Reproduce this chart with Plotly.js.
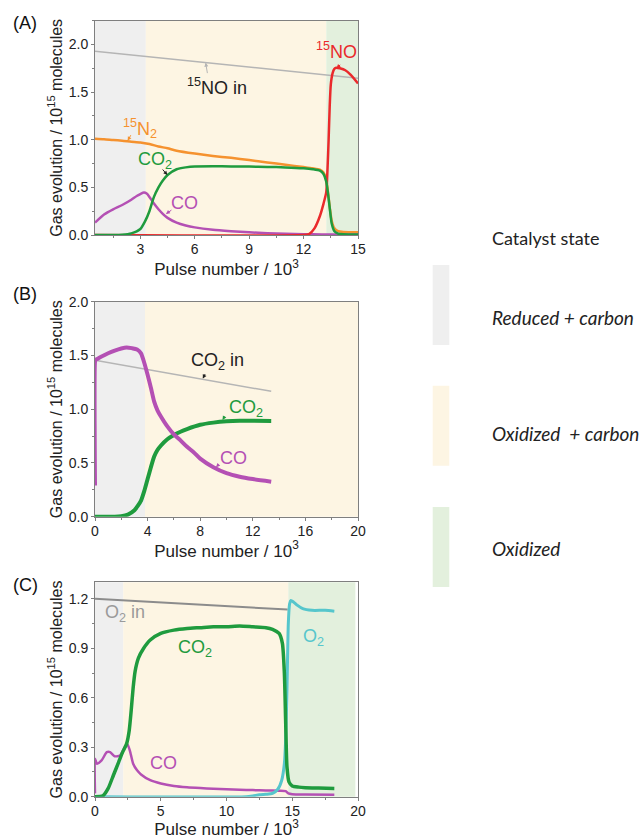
<!DOCTYPE html>
<html>
<head>
<meta charset="utf-8">
<script src="https://cdn.plot.ly/plotly-3.0.1.min.js"></script>
<style>html,body{margin:0;padding:0;background:#fff;}#chart{width:641px;height:839px;}</style>
</head>
<body>
<div id="chart"></div>
<script>
// ---------- Panel A data (x in 10^3 pulses, y in 10^15 molecules) ----------
var A_NOin_x = [0.5, 15];
var A_NOin_y = [1.93, 1.645];
var A_N2_x = [0.5, 1, 1.5, 2, 2.5, 3, 3.5, 4, 4.5, 5, 6, 7, 8, 9, 10, 11, 12, 12.5, 12.9, 13.1, 13.25, 13.35, 13.45, 13.55, 13.7, 13.9, 14.2, 15];
var A_N2_y = [1.01, 1.005, 0.997, 0.99, 0.98, 0.972, 0.955, 0.93, 0.91, 0.885, 0.855, 0.83, 0.81, 0.787, 0.762, 0.738, 0.713, 0.70, 0.685, 0.655, 0.58, 0.44, 0.28, 0.15, 0.07, 0.04, 0.032, 0.028];
var A_CO2_x = [0.5, 1.5, 2, 2.5, 3, 3.25, 3.5, 3.75, 4, 4.25, 4.5, 5, 5.5, 6, 7, 8, 9, 10, 11, 12, 12.5, 12.9, 13.1, 13.25, 13.35, 13.45, 13.55, 13.7, 13.9, 14.2, 15];
var A_CO2_y = [0, 0, 0.003, 0.017, 0.063, 0.14, 0.25, 0.40, 0.50, 0.575, 0.63, 0.69, 0.71, 0.72, 0.722, 0.72, 0.718, 0.715, 0.71, 0.70, 0.69, 0.675, 0.64, 0.56, 0.43, 0.27, 0.12, 0.04, 0.015, 0.008, 0.005];
var A_CO_x = [0.5, 1, 1.5, 2, 2.5, 2.8, 3.0, 3.2, 3.35, 3.5, 3.75, 4, 4.25, 4.5, 5, 5.5, 6, 7, 8, 9, 10, 11, 12, 13, 15];
var A_CO_y = [0.13, 0.215, 0.27, 0.315, 0.37, 0.41, 0.43, 0.445, 0.435, 0.40, 0.33, 0.27, 0.22, 0.18, 0.13, 0.10, 0.08, 0.055, 0.04, 0.028, 0.018, 0.012, 0.008, 0.006, 0.005];
var A_NO_x = [0.5, 12, 12.3, 12.6, 12.9, 13.1, 13.25, 13.32, 13.38, 13.44, 13.5, 13.6, 13.7, 13.8, 14.0, 14.3, 14.6, 15];
var A_NO_y = [0, 0, 0.01, 0.07, 0.2, 0.33, 0.45, 0.7, 1.0, 1.35, 1.58, 1.70, 1.745, 1.757, 1.75, 1.73, 1.68, 1.59];
var A_states = [0.5, 3.3, 13.25, 15];   // boundaries: reduced | oxidized+carbon | oxidized

// ---------- Panel B data ----------
var B_CO2in_x = [0, 13.4];
var B_CO2in_y = [1.456, 1.166];
var B_CO_x = [0, 0, 0.05, 0.2, 0.5, 1, 1.5, 2, 2.4, 2.8, 3.2, 3.5, 3.75, 4, 4.25, 4.5, 4.75, 5, 5.5, 6, 6.5, 7, 7.5, 8, 9, 10, 11, 12, 13.4];
var B_CO_y = [0.29, 1.44, 1.46, 1.47, 1.49, 1.52, 1.545, 1.565, 1.575, 1.568, 1.555, 1.52, 1.43, 1.32, 1.20, 1.07, 0.99, 0.935, 0.84, 0.765, 0.71, 0.65, 0.60, 0.54, 0.46, 0.405, 0.372, 0.35, 0.326];
var B_CO2_x = [0, 1.5, 2, 2.5, 3, 3.25, 3.5, 3.75, 4, 4.25, 4.5, 4.75, 5, 5.5, 6, 6.5, 7, 8, 9, 10, 11, 12, 13.4];
var B_CO2_y = [0, 0, 0.005, 0.02, 0.06, 0.1, 0.15, 0.24, 0.35, 0.46, 0.56, 0.62, 0.66, 0.72, 0.76, 0.79, 0.815, 0.855, 0.875, 0.887, 0.892, 0.892, 0.89];
var B_states = [0, 3.8, 20];

// ---------- Panel C data ----------
var C_O2in_x = [0, 14.65];
var C_O2in_y = [1.2, 1.135];
var C_CO2_x = [0, 0.6, 1.0, 1.4, 1.8, 2.1, 2.4, 2.6, 2.75, 2.9, 3.05, 3.3, 3.7, 4.2, 5, 6, 7, 8, 9, 10, 11, 12, 13, 13.5, 14, 14.25, 14.4, 14.5, 14.6, 14.75, 15, 15.5, 16, 17, 18.2];
var C_CO2_y = [0, 0.005, 0.05, 0.13, 0.21, 0.27, 0.32, 0.40, 0.52, 0.66, 0.76, 0.84, 0.90, 0.95, 0.99, 1.01, 1.02, 1.025, 1.03, 1.03, 1.035, 1.03, 1.025, 1.015, 0.99, 0.93, 0.75, 0.45, 0.18, 0.09, 0.065, 0.058, 0.055, 0.052, 0.05];
var C_CO_x = [0, 0, 0.15, 0.5, 0.9, 1.15, 1.5, 1.9, 2.2, 2.45, 2.65, 2.9, 3.2, 3.5, 4.2, 5, 6, 7, 8, 9, 10, 11, 12, 13, 14, 14.5, 14.7, 15, 16, 18.2];
var C_CO_y = [0.02, 0.23, 0.2, 0.22, 0.27, 0.27, 0.245, 0.25, 0.29, 0.32, 0.28, 0.2, 0.16, 0.135, 0.1, 0.08, 0.065, 0.057, 0.052, 0.048, 0.045, 0.042, 0.04, 0.038, 0.036, 0.034, 0.02, 0.015, 0.013, 0.012];
var C_O2_x = [0, 11.5, 12, 12.5, 13, 13.5, 13.9, 14.2, 14.4, 14.5, 14.6, 14.7, 14.8, 14.9, 15.1, 15.4, 15.8, 16.5, 17.5, 18.2];
var C_O2_y = [0, 0, 0.005, 0.012, 0.015, 0.02, 0.045, 0.1, 0.2, 0.35, 0.65, 1.05, 1.17, 1.19, 1.18, 1.16, 1.14, 1.13, 1.13, 1.125];
var C_states = [0, 2.15, 14.7, 19.8];

// ---------- Legend ----------
var legendTitle = "Catalyst state";
var legendLabels = ["<i>Reduced + carbon</i>", "<i>Oxidized&nbsp; + carbon</i>", "<i>Oxidized</i>"];

// ---------- Styling ----------
var W = 641, H = 839;
var COL = {
  grayBg: "#efefef", beigeBg: "#fdf5e3", greenBg: "#e3f0dd",
  orange: "#f5922f", green: "#1f9b3e", purple: "#b450b4", red: "#ea2a2c",
  cyan: "#56c6cc", inGrey: "#b5b5b5", o2in: "#8c8c8c", axis: "#7f7f7f", text: "#222"
};
var AX_FONT = "Liberation Sans, Arial, sans-serif";
function py(p) { return 1 - p / H; }
function px(p) { return p / W; }

var xdom = [px(95), px(358)];
var ydomA = [py(235), py(20.7)];
var ydomB = [py(516.7), py(301.7)];
var ydomC = [py(796.7), py(582.3)];

function line(x, y, color, width, xa, ya) {
  return { x: x, y: y, type: "scatter", mode: "lines", xaxis: xa, yaxis: ya,
    line: { color: color, width: width, shape: "spline", smoothing: 0.6 },
    hoverinfo: "skip", showlegend: false };
}

var traces = [
  line(A_NOin_x, A_NOin_y, COL.inGrey, 1.5, "x", "y"),
  line(A_N2_x, A_N2_y, COL.orange, 2.5, "x", "y"),
  line(A_CO_x, A_CO_y, COL.purple, 2.5, "x", "y"),
  line(A_NO_x, A_NO_y, COL.red, 2.5, "x", "y"),
  line(A_CO2_x, A_CO2_y, COL.green, 2.5, "x", "y"),
  line(B_CO2in_x, B_CO2in_y, COL.inGrey, 1.5, "x2", "y2"),
  line(B_CO2_x, B_CO2_y, COL.green, 4, "x2", "y2"),
  line(B_CO_x, B_CO_y, COL.purple, 4, "x2", "y2"),
  line(C_O2in_x, C_O2in_y, COL.o2in, 2, "x3", "y3"),
  line(C_CO_x, C_CO_y, COL.purple, 2.5, "x3", "y3"),
  line(C_O2_x, C_O2_y, COL.cyan, 3, "x3", "y3"),
  line(C_CO2_x, C_CO2_y, COL.green, 3.5, "x3", "y3")
];

function xaxis(range, dtick, minor, ydomAnchor) {
  return { domain: xdom, range: range, anchor: ydomAnchor, dtick: dtick, tick0: 0,
    ticks: "outside", ticklen: 3, tickcolor: COL.axis, tickwidth: 1, ticklabelstandoff: -2,
    minor: { dtick: minor, ticks: "outside", ticklen: 2, tickcolor: COL.axis },
    showline: true, linecolor: COL.axis, linewidth: 1, mirror: true,
    showgrid: false, zeroline: false,
    tickfont: { family: AX_FONT, size: 14, color: COL.text },
    title: { text: "Pulse number / 10<sup>3</sup>", font: { family: AX_FONT, size: 17, color: COL.text }, standoff: 3 } };
}
function yaxis(range, dtick, minor, dom, anchor, fmt) {
  return { domain: dom, range: range, anchor: anchor, dtick: dtick, tick0: 0, tickformat: fmt,
    ticks: "outside", ticklen: 3, tickcolor: COL.axis, tickwidth: 1,
    minor: { dtick: minor, ticks: "outside", ticklen: 2, tickcolor: COL.axis },
    showline: true, linecolor: COL.axis, linewidth: 1, mirror: true,
    showgrid: false, zeroline: false,
    tickfont: { family: AX_FONT, size: 14, color: COL.text },
    title: { text: "Gas evolution / 10<sup>15</sup> molecules", font: { family: AX_FONT, size: 16, color: COL.text }, standoff: 2 } };
}

var shapes = [];
function bands(states, colors, xref, yref) {
  for (var i = 0; i < states.length - 1; i++) {
    shapes.push({ type: "rect", xref: xref, yref: yref + " domain", x0: states[i], x1: states[i + 1], y0: 0, y1: 1,
      fillcolor: colors[i], line: { width: 0 }, layer: "below" });
  }
}
bands(A_states, [COL.grayBg, COL.beigeBg, COL.greenBg], "x", "y");
bands(B_states, [COL.grayBg, COL.beigeBg], "x2", "y2");
bands(C_states, [COL.grayBg, COL.beigeBg, COL.greenBg], "x3", "y3");

// legend swatches (paper coordinates)
var swatchY = [[265, 345], [385.7, 465.7], [507, 587]];
var swatchCol = [COL.grayBg, COL.beigeBg, COL.greenBg];
for (var s = 0; s < 3; s++) {
  shapes.push({ type: "rect", xref: "paper", yref: "paper", x0: px(432.7), x1: px(449.3),
    y0: py(swatchY[s][1]), y1: py(swatchY[s][0]), fillcolor: swatchCol[s], line: { width: 0 } });
}

var LBL = "Liberation Sans, Arial, sans-serif";
function txt(text, x, y, xa, ya, color, size) {
  return { text: text, x: x, y: y, xref: xa, yref: ya, showarrow: false,
    font: { family: LBL, size: size || 18, color: color }, xanchor: "center", yanchor: "middle" };
}
function arr(x, y, xa, ya, ax, ay, color) {
  return { text: "", x: x, y: y, xref: xa, yref: ya, showarrow: true, ax: ax, ay: ay,
    arrowhead: 2, arrowsize: 0.8, arrowwidth: 1, arrowcolor: color, standoff: 0 };
}
function label(text, x, y, color, size, anchor, family) {
  return { text: text, x: px(x), y: py(y), xref: "paper", yref: "paper", showarrow: false,
    xanchor: anchor || "center", yanchor: "middle", font: { family: family || AX_FONT, size: size, color: color } };
}

var annotations = [
  // Panel A
  txt("<sup>15</sup>NO in", 7.21, 1.555, "x", "y", COL.text),
  arr(6.6, 1.81, "x", "y", 2, 12, COL.inGrey),
  txt("<sup>15</sup>N<sub>2</sub>", 2.98, 1.122, "x", "y", COL.orange),
  arr(2.3, 0.99, "x", "y", 4, -7, COL.orange),
  txt("CO<sub>2</sub>", 3.81, 0.787, "x", "y", COL.green),
  arr(4.49, 0.63, "x", "y", -6, -7, "#222"),
  txt("CO", 5.46, 0.336, "x", "y", COL.purple),
  arr(4.41, 0.22, "x", "y", 7, -5, COL.purple),
  txt("<sup>15</sup>NO", 13.84, 1.94, "x", "y", COL.red),
  arr(13.82, 1.75, "x", "y", 5, -5, COL.red),
  // Panel B
  txt("CO<sub>2</sub> in", 9.33, 1.442, "x2", "y2", COL.text),
  arr(8.2, 1.285, "x2", "y2", 3, -6, "#222"),
  txt("CO<sub>2</sub>", 11.5, 1.008, "x2", "y2", COL.green),
  arr(9.7, 0.9, "x2", "y2", 3, -5, COL.green),
  txt("CO", 10.5, 0.543, "x2", "y2", COL.purple),
  arr(9.2, 0.46, "x2", "y2", 4, -4, COL.purple),
  // Panel C
  txt("O<sub>2</sub> in", 2.28, 1.113, "x3", "y3", "#9a9a9a"),
  txt("CO<sub>2</sub>", 7.6, 0.898, "x3", "y3", COL.green),
  txt("CO", 5.19, 0.202, "x3", "y3", COL.purple),
  txt("O<sub>2</sub>", 16.6, 0.968, "x3", "y3", COL.cyan),
  // panel letters
  label("(A)", 25, 23, "#111", 18),
  label("(B)", 25, 294, "#111", 18),
  label("(C)", 25, 585, "#111", 18),
  // legend texts
  label(legendTitle, 490, 238, "#222", 18, "left", "Lato, sans-serif"),
  label(legendLabels[0], 490, 318, "#222", 19, "left", "Lato, sans-serif"),
  label(legendLabels[1], 490, 433, "#222", 19, "left", "Lato, sans-serif"),
  label(legendLabels[2], 490, 548, "#222", 19, "left", "Lato, sans-serif")
];

var layout = {
  width: W, height: H, margin: { l: 0, r: 0, t: 0, b: 0 },
  paper_bgcolor: "#ffffff", plot_bgcolor: "#ffffff", showlegend: false,
  xaxis: xaxis([0.5, 15], 3, 1.5, "y"),
  yaxis: yaxis([0, 2.25], 0.5, 0.25, ydomA, "x", ".1f"),
  xaxis2: xaxis([0, 20], 4, 2, "y2"),
  yaxis2: yaxis([0, 2], 0.5, 0.25, ydomB, "x2", ".1f"),
  xaxis3: xaxis([0, 20], 5, 2.5, "y3"),
  yaxis3: yaxis([0, 1.3], 0.3, 0.15, ydomC, "x3", ".1f"),
  shapes: shapes, annotations: annotations
};

Plotly.newPlot("chart", traces, layout, { staticPlot: true, displayModeBar: false });
</script>
</body>
</html>
